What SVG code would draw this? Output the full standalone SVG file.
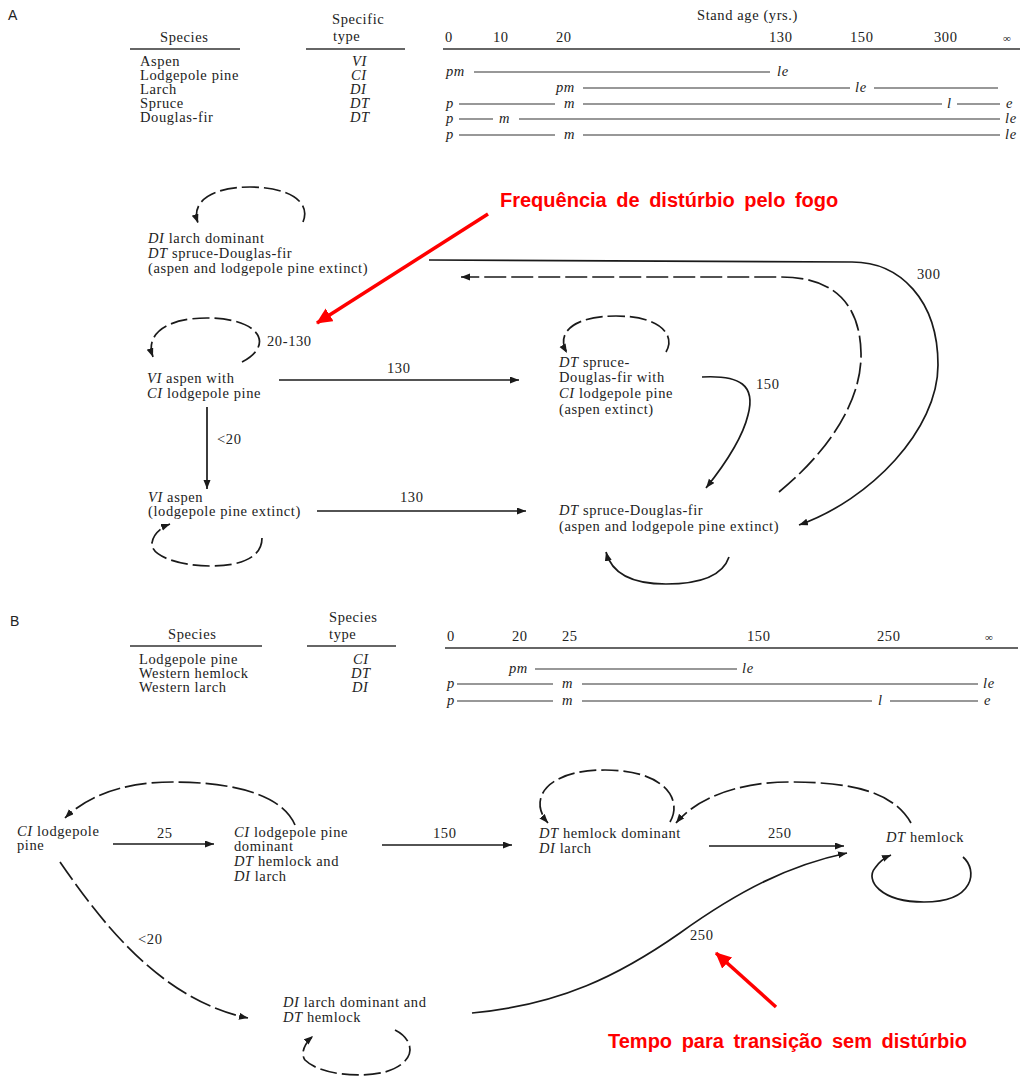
<svg xmlns="http://www.w3.org/2000/svg" width="1031" height="1077" viewBox="0 0 1031 1077">
<defs>
<style>
.t{font-family:"Liberation Serif","Times New Roman",serif;font-size:14.5px;letter-spacing:0.6px;fill:#222}
.i{font-style:italic}
.s{font-family:"Liberation Sans",Arial,sans-serif;font-size:14px;fill:#222}
.red{font-family:"Liberation Sans",Arial,sans-serif;font-weight:bold;font-size:20px;word-spacing:4px;fill:#f00}
.c{fill:none;stroke:#1a1a1a;stroke-width:1.7}
.d{stroke-dasharray:22 5}
.d2{stroke-dasharray:17 5}
.rule{stroke:#333;stroke-width:1.6}
.sl{stroke:#333;stroke-width:1.1}
.ra{fill:none;stroke:#f00;stroke-width:3.5}
</style>
<marker id="ah" markerUnits="userSpaceOnUse" markerWidth="10" markerHeight="8" refX="9" refY="3.5" orient="auto">
<path d="M0,0 L9,3.5 L0,7 z" fill="#1a1a1a"/>
</marker>
<marker id="rah" markerUnits="userSpaceOnUse" markerWidth="18" markerHeight="16" refX="15" refY="7.5" orient="auto">
<path d="M0,0 L16,7.5 L0,15 z" fill="#f00"/>
</marker>
</defs>
<rect width="1031" height="1077" fill="#fff"/>

<!-- ===== Panel A table ===== -->
<g id="tableA">
<text class="s" x="8" y="20">A</text>
<text class="t" x="160" y="42">Species</text>
<line class="rule" x1="130" y1="49" x2="240" y2="49"/>
<text class="t" x="332" y="24">Specific</text>
<text class="t" x="333" y="41">type</text>
<line class="rule" x1="306" y1="49" x2="405" y2="49"/>
<text class="t" x="697" y="20">Stand age (yrs.)</text>
<text class="t" x="445" y="42">0</text>
<text class="t" x="493" y="42">10</text>
<text class="t" x="556" y="42">20</text>
<text class="t" x="769" y="42">130</text>
<text class="t" x="850" y="42">150</text>
<text class="t" x="934" y="42">300</text>
<text class="t" x="1003" y="42" style="font-size:11px">∞</text>
<line class="rule" x1="443" y1="49" x2="1020" y2="49"/>
<text class="t" x="140" y="66">Aspen</text>
<text class="t" x="140" y="80">Lodgepole pine</text>
<text class="t" x="140" y="94">Larch</text>
<text class="t" x="140" y="108">Spruce</text>
<text class="t" x="140" y="122">Douglas-fir</text>
<text class="t i" x="352" y="66">VI</text>
<text class="t i" x="351" y="80">CI</text>
<text class="t i" x="350" y="94">DI</text>
<text class="t i" x="350" y="108">DT</text>
<text class="t i" x="350" y="122">DT</text>
<text class="t i" x="446" y="76">pm</text>
<line class="sl" x1="474" y1="72" x2="770" y2="72"/>
<text class="t i" x="777" y="76">le</text>
<text class="t i" x="556" y="92">pm</text>
<line class="sl" x1="583" y1="88" x2="850" y2="88"/>
<text class="t i" x="855" y="92">le</text>
<line class="sl" x1="874" y1="88" x2="998" y2="88"/>
<text class="t i" x="446" y="108">p</text>
<line class="sl" x1="459" y1="104" x2="555" y2="104"/>
<text class="t i" x="564" y="108">m</text>
<line class="sl" x1="583" y1="104" x2="942" y2="104"/>
<text class="t i" x="947" y="108">l</text>
<line class="sl" x1="957" y1="104" x2="1000" y2="104"/>
<text class="t i" x="1006" y="108">e</text>
<text class="t i" x="446" y="123">p</text>
<line class="sl" x1="459" y1="119" x2="493" y2="119"/>
<text class="t i" x="499" y="123">m</text>
<line class="sl" x1="519" y1="119" x2="1000" y2="119"/>
<text class="t i" x="1005" y="123">le</text>
<text class="t i" x="446" y="139">p</text>
<line class="sl" x1="459" y1="135" x2="555" y2="135"/>
<text class="t i" x="564" y="139">m</text>
<line class="sl" x1="583" y1="135" x2="1000" y2="135"/>
<text class="t i" x="1005" y="139">le</text>
</g>

<!-- ===== Panel A nodes ===== -->
<g id="A_larch">
<text class="t" x="148" y="243"><tspan class="i">DI</tspan> larch dominant</text>
<text class="t" x="148" y="258"><tspan class="i">DT</tspan> spruce-Douglas-fir</text>
<text class="t" x="148" y="273">(aspen and lodgepole pine extinct)</text>
</g>
<g id="A_aspen_pine">
<text class="t" x="147" y="383"><tspan class="i">VI</tspan> aspen with</text>
<text class="t" x="147" y="398"><tspan class="i">CI</tspan> lodgepole pine</text>
</g>
<g id="A_spruce_pine">
<text class="t" x="559" y="367"><tspan class="i">DT</tspan> spruce-</text>
<text class="t" x="559" y="382">Douglas-fir with</text>
<text class="t" x="559" y="398"><tspan class="i">CI</tspan> lodgepole pine</text>
<text class="t" x="559" y="414">(aspen extinct)</text>
</g>
<g id="A_aspen">
<text class="t" x="148" y="502"><tspan class="i">VI</tspan> aspen</text>
<text class="t" x="148" y="516">(lodgepole pine extinct)</text>
</g>
<g id="A_spruce">
<text class="t" x="559" y="515"><tspan class="i">DT</tspan> spruce-Douglas-fir</text>
<text class="t" x="559" y="531">(aspen and lodgepole pine extinct)</text>
</g>

<!-- ===== Panel B table ===== -->
<g id="tableB">
<text class="s" x="10" y="626">B</text>
<text class="t" x="168" y="639">Species</text>
<line class="rule" x1="130" y1="646" x2="262" y2="646"/>
<text class="t" x="329" y="622">Species</text>
<text class="t" x="329" y="639">type</text>
<line class="rule" x1="307" y1="646" x2="396" y2="646"/>
<text class="t" x="447" y="641">0</text>
<text class="t" x="512" y="641">20</text>
<text class="t" x="562" y="641">25</text>
<text class="t" x="747" y="641">150</text>
<text class="t" x="877" y="641">250</text>
<text class="t" x="985" y="641" style="font-size:11px">∞</text>
<line class="rule" x1="445" y1="648" x2="1018" y2="648"/>
<text class="t" x="139" y="664">Lodgepole pine</text>
<text class="t" x="139" y="678">Western hemlock</text>
<text class="t" x="139" y="692">Western larch</text>
<text class="t i" x="353" y="664">CI</text>
<text class="t i" x="351" y="678">DT</text>
<text class="t i" x="352" y="692">DI</text>
<text class="t i" x="509" y="673">pm</text>
<line class="sl" x1="535" y1="669" x2="737" y2="669"/>
<text class="t i" x="742" y="673">le</text>
<text class="t i" x="447" y="688">p</text>
<line class="sl" x1="457" y1="684" x2="553" y2="684"/>
<text class="t i" x="562" y="688">m</text>
<line class="sl" x1="582" y1="684" x2="978" y2="684"/>
<text class="t i" x="983" y="688">le</text>
<text class="t i" x="447" y="705">p</text>
<line class="sl" x1="457" y1="701" x2="553" y2="701"/>
<text class="t i" x="562" y="705">m</text>
<line class="sl" x1="582" y1="701" x2="872" y2="701"/>
<text class="t i" x="878" y="705">l</text>
<line class="sl" x1="890" y1="701" x2="978" y2="701"/>
<text class="t i" x="984" y="705">e</text>
</g>

<!-- ===== Panel B nodes ===== -->
<g id="B_pine">
<text class="t" x="17" y="836"><tspan class="i">CI</tspan> lodgepole</text>
<text class="t" x="17" y="850">pine</text>
</g>
<g id="B_pine_dom">
<text class="t" x="234" y="837"><tspan class="i">CI</tspan> lodgepole pine</text>
<text class="t" x="234" y="851">dominant</text>
<text class="t" x="234" y="866"><tspan class="i">DT</tspan> hemlock and</text>
<text class="t" x="234" y="881"><tspan class="i">DI</tspan> larch</text>
</g>
<g id="B_hemlock_dom">
<text class="t" x="539" y="838"><tspan class="i">DT</tspan> hemlock dominant</text>
<text class="t" x="539" y="853"><tspan class="i">DI</tspan> larch</text>
</g>
<g id="B_hemlock">
<text class="t" x="886" y="842"><tspan class="i">DT</tspan> hemlock</text>
</g>
<g id="B_larch">
<text class="t" x="283" y="1007"><tspan class="i">DI</tspan> larch dominant and</text>
<text class="t" x="283" y="1022"><tspan class="i">DT</tspan> hemlock</text>
</g>

<!-- ===== Connectors ===== -->
<g id="connectors">
<!-- Panel A -->
<path class="c d2" marker-end="url(#ah)" d="M303,222 C312,200 285,187 250,187 C215,187 190,200 198,223"/>
<path class="c d2" marker-end="url(#ah)" d="M242,362 C275,345 260,318 207,318 C165,318 145,335 153,357"/>
<path class="c" marker-end="url(#ah)" d="M279,380 L519,380"/>
<path class="c" marker-end="url(#ah)" d="M207,407 L207,489"/>
<path class="c" marker-end="url(#ah)" d="M317,511 L526,511"/>
<path class="c d2" marker-end="url(#ah)" d="M262,538 C262,558 240,566 210,566 C180,566 150,556 152,543 C153,535 160,528 170,524"/>
<path class="c d2" marker-end="url(#ah)" d="M666,352 C676,335 660,316 616,316 C575,316 555,332 567,353"/>
<path class="c" marker-end="url(#ah)" d="M702,377 C740,375 756,385 748,415 C742,440 722,468 706,488"/>
<path class="c" marker-end="url(#ah)" d="M729,557 C722,578 695,584 666,584 C635,584 612,575 606,552"/>
<path class="c" marker-end="url(#ah)" d="M429,260 L852,262 C900,262 938,300 938,365 C938,430 870,500 799,525"/>
<path class="c d" marker-end="url(#ah)" d="M779,492 C830,450 862,400 861,353 C860,305 835,277 781,277 L461,277"/>
<!-- Panel B -->
<path class="c d" marker-end="url(#ah)" d="M295,825 C280,790 220,782 173,782 C120,782 85,798 65,818"/>
<path class="c" marker-end="url(#ah)" d="M113,844 L214,844"/>
<path class="c" marker-end="url(#ah)" d="M382,845 L512,845"/>
<path class="c d" marker-end="url(#ah)" d="M60,862 C100,920 160,1000 248,1018"/>
<path class="c d2" marker-end="url(#ah)" d="M395,1030 C415,1040 418,1062 385,1072 C360,1078 320,1075 305,1060 C300,1053 305,1043 313,1036"/>
<path class="c d2" marker-end="url(#ah)" d="M670,822 C683,800 665,770 605,770 C545,770 528,800 548,823"/>
<path class="c d" marker-end="url(#ah)" d="M911,823 C895,795 860,782 790,782 C735,782 695,800 676,823"/>
<path class="c" marker-end="url(#ah)" d="M709,846 L844,846"/>
<path class="c" marker-end="url(#ah)" d="M963,857 C978,870 975,902 924,902 C880,902 865,880 875,868 C879,862 884,858 891,855"/>
<path class="c" marker-end="url(#ah)" d="M472,1013 C560,1005 620,975 680,933 C740,890 790,865 847,853"/>
<!-- connector labels -->
<text class="t" x="267" y="346">20-130</text>
<text class="t" x="387" y="373">130</text>
<text class="t" x="217" y="444">&lt;20</text>
<text class="t" x="400" y="502">130</text>
<text class="t" x="756" y="389">150</text>
<text class="t" x="917" y="279">300</text>
<text class="t" x="157" y="838">25</text>
<text class="t" x="433" y="838">150</text>
<text class="t" x="138" y="944">&lt;20</text>
<text class="t" x="768" y="838">250</text>
<text class="t" x="690" y="940">250</text>
</g>

<!-- ===== Red annotations ===== -->
<g id="annotations">
<text class="red" x="500" y="207">Frequência de distúrbio pelo fogo</text>
<path class="ra" marker-end="url(#rah)" d="M488,214 L317,323"/>
<text class="red" x="608" y="1048">Tempo para transição sem distúrbio</text>
<path class="ra" marker-end="url(#rah)" d="M776,1007 L716,953"/>
</g>
</svg>
